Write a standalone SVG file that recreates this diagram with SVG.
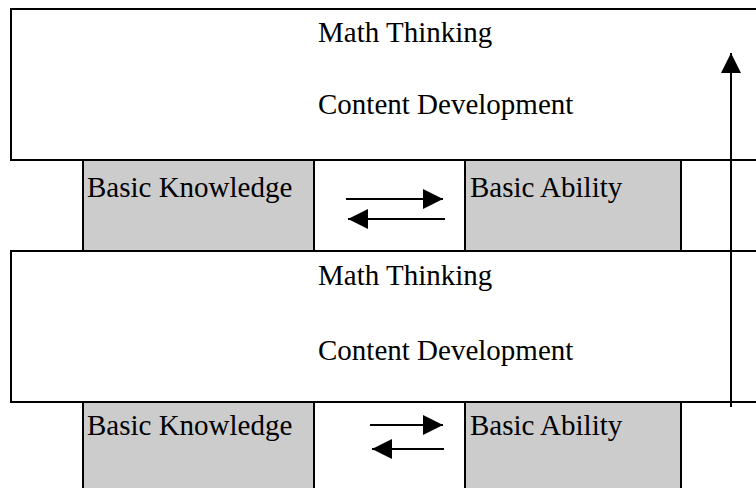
<svg xmlns="http://www.w3.org/2000/svg" width="756" height="488" viewBox="0 0 756 488">
<style>
.band{fill:#ffffff;stroke:#000;stroke-width:2}
.box{fill:#cccccc;stroke:#000;stroke-width:2}
text{font-family:"Liberation Serif","Times New Roman",serif;font-size:29px;fill:#000}
.ln{stroke:#000;stroke-width:2;fill:none}
</style>
<defs>
<marker id="ah" viewBox="0 0 20 20" refX="20" refY="10" markerWidth="20" markerHeight="20" markerUnits="userSpaceOnUse" orient="auto">
<path d="M0,0 L20,10 L0,20 Z" fill="#000"/>
</marker>
</defs>
<rect width="756" height="488" fill="#fff"/>
<g id="kb1"><rect class="box" x="83" y="160" width="231" height="91"/><text x="87" y="197">Basic Knowledge</text></g>
<g id="ab1"><rect class="box" x="465" y="160" width="216" height="91"/><text x="470" y="197">Basic Ability</text></g>
<g id="kb2"><rect class="box" x="83" y="402" width="231" height="100"/><text x="87" y="435">Basic Knowledge</text></g>
<g id="ab2"><rect class="box" x="465" y="402" width="216" height="100"/><text x="470" y="435">Basic Ability</text></g>
<g id="band1"><rect class="band" x="11" y="9" width="760" height="151"/><text x="318" y="42">Math Thinking</text><text x="318" y="114">Content Development</text></g>
<g id="band2"><rect class="band" x="11" y="251" width="760" height="151"/><text x="318" y="285">Math Thinking</text><text x="318" y="360">Content Development</text></g>
<g id="connectors">
<line class="ln" x1="346" y1="199" x2="443" y2="199" marker-end="url(#ah)"/>
<line class="ln" x1="445" y1="219" x2="348" y2="219" marker-end="url(#ah)"/>
<line class="ln" x1="370" y1="425" x2="443" y2="425" marker-end="url(#ah)"/>
<line class="ln" x1="444" y1="449" x2="372" y2="449" marker-end="url(#ah)"/>
<line class="ln" x1="731" y1="407" x2="731" y2="53" marker-end="url(#ah)"/>
</g>
</svg>
